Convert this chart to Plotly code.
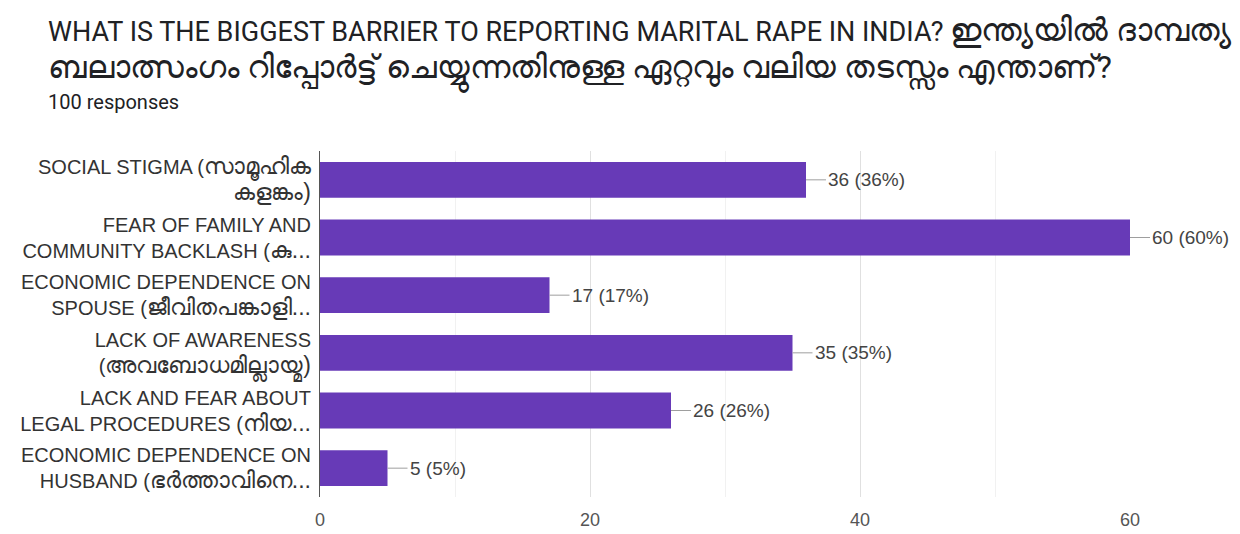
import plotly.graph_objects as go

# Survey answers (top to bottom): Latin line 1, Latin start of line 2, Malayalam run, Malayalam line 2
answers = [
    ("SOCIAL STIGMA (", "", "സാമൂഹിക", "കളങ്കം)"),
    ("FEAR OF FAMILY AND", "COMMUNITY BACKLASH (", "കു...", ""),
    ("ECONOMIC DEPENDENCE ON", "SPOUSE (", "ജീവിതപങ്കാളി...", ""),
    ("LACK OF AWARENESS", "(", "അവബോധമില്ലായ്മ)", ""),
    ("LACK AND FEAR ABOUT", "LEGAL PROCEDURES (", "നിയ...", ""),
    ("ECONOMIC DEPENDENCE ON", "HUSBAND (", "ഭർത്താവിനെ...", ""),
]
counts = [36, 60, 17, 35, 26, 5]
total_responses = 100
x_ticks = [0, 20, 40, 60]

title_en = "WHAT IS THE BIGGEST BARRIER TO REPORTING MARITAL RAPE IN INDIA?"
title_ml_1 = "ഇന്ത്യയിൽ ദാമ്പത്യ"
title_ml_2 = "ബലാത്സംഗം റിപ്പോർട്ട് ചെയ്യുന്നതിനുള്ള ഏറ്റവും വലിയ തടസ്സം എന്താണ്?"

LABEL_FONT = "Liberation Sans, Arial, Noto Sans, sans-serif"
TITLE_FONT = "Roboto, Noto Sans, sans-serif"


def ml(text, size):
    """Malayalam runs are set slightly larger than the Latin text around them."""
    return f'<span style="font-size:{size}px">{text}</span>' if text else ""


def build_label(parts):
    a, b, m, c = parts
    if b == "" and c:
        # Malayalam continues on the second line
        return f"{a}{ml(m, 23)}<br>{ml(c, 23)}"
    return f"{a}<br>{b}{ml(m, 23)}"


categories = [build_label(p) for p in answers]

fig = go.Figure()
fig.add_trace(go.Bar(
    y=categories,
    x=counts,
    orientation="h",
    marker=dict(color="#673ab7", line=dict(width=0)),
    width=0.62,
    hoverinfo="skip",
))

# Value labels with a short leader line from the bar end
for cat, c in zip(categories, counts):
    fig.add_annotation(
        x=c, y=cat, xref="x", yref="y",
        text=f"{c} ({round(100 * c / total_responses)}%)",
        showarrow=True, arrowhead=0, arrowwidth=1, arrowcolor="#9e9e9e",
        ax=20, ay=0, xanchor="left", standoff=0,
        font=dict(family=LABEL_FONT, size=19, color="#444444"),
    )

# Two-line question title and the response count beneath it
header_lines = [
    (f"{title_en} {ml(title_ml_1, 32)}", 27, 121),
    (ml(title_ml_2, 32), 27, 81),
    (f"{total_responses} responses", 20, 49),
]
for text, size, shift in header_lines:
    fig.add_annotation(
        text=text, xref="paper", yref="paper", x=0, y=1, xshift=-274, yshift=shift,
        xanchor="left", yanchor="middle", align="left", showarrow=False,
        font=dict(family=TITLE_FONT, size=size, color="#202124"),
    )

fig.update_layout(
    width=1240, height=534,
    margin=dict(l=320, r=110, t=151, b=37, autoexpand=False),
    paper_bgcolor="white", plot_bgcolor="white",
    showlegend=False,
    bargap=0.38,
)
fig.update_xaxes(
    range=[0, 60], tickvals=x_ticks, ticks="", automargin=False,
    showgrid=True, gridcolor="#e0e0e0", gridwidth=1,
    minor=dict(dtick=10, showgrid=True, gridcolor="#f1f1f1"),
    zeroline=False, showline=False,
    tickfont=dict(family=LABEL_FONT, size=18, color="#555555"),
    ticklabelstandoff=10,
)
fig.update_yaxes(
    autorange="reversed", showgrid=False, zeroline=False, automargin=False,
    showline=True, linecolor="#555555", linewidth=1,
    ticks="", ticklabelstandoff=4,
    tickfont=dict(family=LABEL_FONT, size=20, color="#333333"),
)

fig.write_html("out.html")
